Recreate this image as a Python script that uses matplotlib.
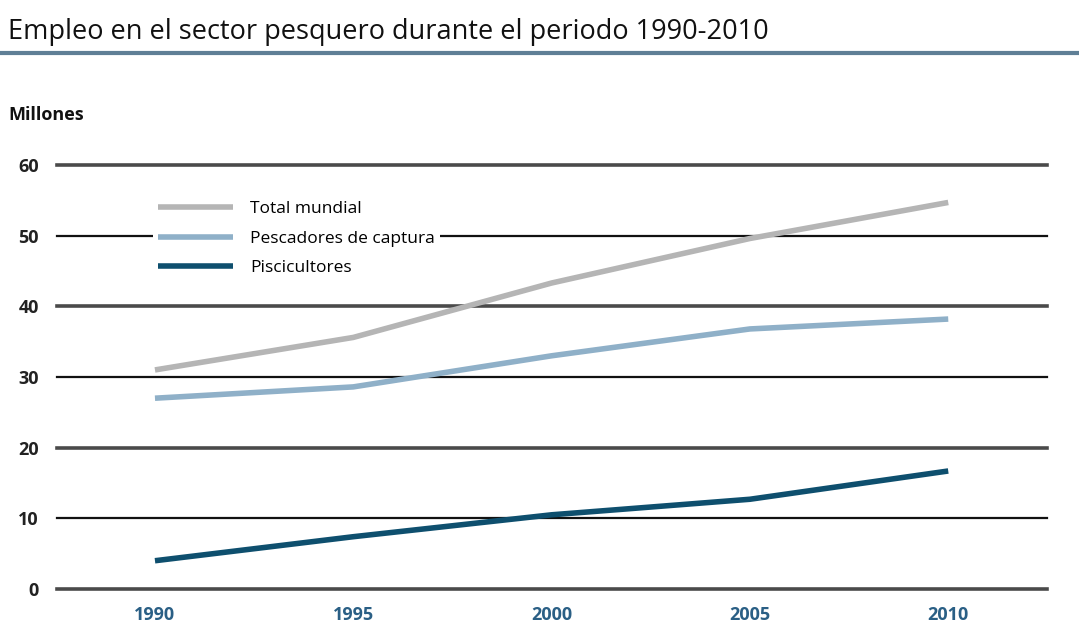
import matplotlib
matplotlib.use("Agg")
import matplotlib.pyplot as plt
from matplotlib.lines import Line2D

years = [1990, 1995, 2000, 2005, 2010]
total_mundial = [31.0, 35.6, 43.3, 49.6, 54.7]
pescadores = [27.0, 28.6, 33.0, 36.8, 38.2]
piscicultores = [4.0, 7.4, 10.5, 12.7, 16.7]
y_ticks = [0, 10, 20, 30, 40, 50, 60]
series_names = ["Total mundial", "Pescadores de captura", "Piscicultores"]

plt.rcParams['font.family'] = ["Open Sans", "DejaVu Sans"]

fig = plt.figure(figsize=(10.79, 6.27), dpi=100)
ax = fig.add_axes([57/1079, 1-589/627, (1047-57)/1079, (589-165)/627])
ax.set_xlim(1987.53, 2012.49)
ax.set_ylim(0, 60)

for i, t in enumerate(y_ticks):
    if i % 2 == 0:
        ax.axhline(t, color="#4a4a4a", lw=2.6, clip_on=False, zorder=1)
    else:
        ax.axhline(t, color="#111111", lw=1.6, clip_on=False, zorder=1)

colors = ["#b5b5b5", "#8fb0c8", "#0e4f6e"]
for vals, c, name in zip([total_mundial, pescadores, piscicultores], colors, series_names):
    ax.plot(years, vals, color=c, lw=4, solid_capstyle="butt", label=name, zorder=3)

for s in ax.spines.values():
    s.set_visible(False)
ax.set_yticks(y_ticks)
ax.set_yticklabels([str(t) for t in y_ticks], fontsize=13, fontweight="bold", color="#222222")
ax.set_xticks(years)
ax.set_xticklabels([str(y) for y in years], fontsize=13, fontweight="bold", color="#2a5f85")
ax.tick_params(axis="y", length=0, pad=13)
ax.tick_params(axis="x", length=0, pad=12)

leg = ax.legend(loc="upper left", bbox_to_anchor=(0.088, 0.948), frameon=True,
                framealpha=1, edgecolor="none", facecolor="white", fontsize=12.5,
                handlelength=4.3, handletextpad=1.0, labelspacing=0.78, borderpad=0.3)
leg.set_zorder(2)

fig.text(8/1079, 1-32/627, "Empleo en el sector pesquero durante el periodo 1990-2010",
         fontsize=19.5, color="#111111", va="center", ha="left")
fig.add_artist(Line2D([0, 1], [1-53/627, 1-53/627], color="#5f7f96", lw=3, transform=fig.transFigure))
fig.text(8/1079, 1-115/627, "Millones", fontsize=13, fontweight="bold", color="#111111",
         va="center", ha="left")

fig.savefig("out.png", dpi=100)
